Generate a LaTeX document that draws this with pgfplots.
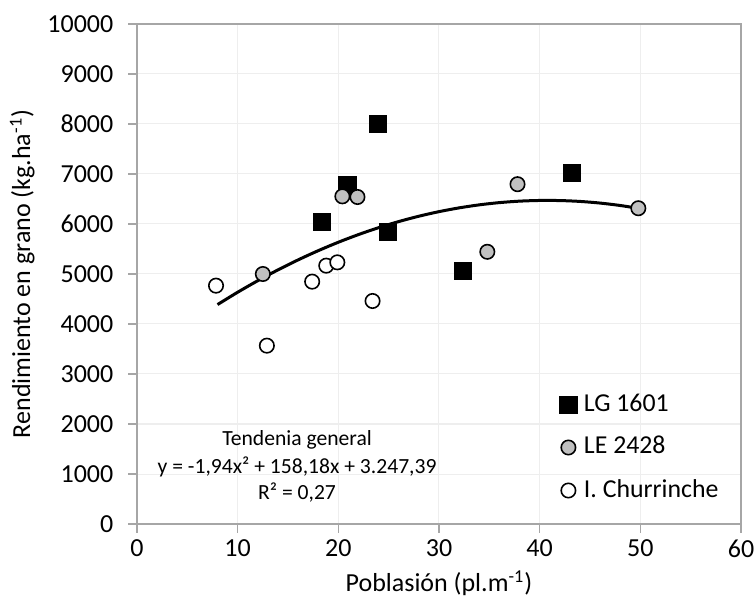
\documentclass[border=0pt]{standalone}
\usepackage{pgfplots}
\pgfplotsset{compat=1.18}
\usepackage{fontspec}
\setmainfont{Carlito}
\definecolor{axgray}{HTML}{A6A6A6}
\definecolor{gridgray}{HTML}{EEEEEE}
\definecolor{ptgray}{HTML}{C0C0C0}
\begin{document}
\begin{tikzpicture}
\path[use as bounding box] (-68.5pt,-40.5pt) rectangle (309pt,262pt);
\begin{axis}[
  at={(0pt,0pt)}, anchor=south west,
  scale only axis,
  width=302pt, height=250pt,
  xmin=0, xmax=60, ymin=0, ymax=10000,
  xtick={0,10,...,60}, ytick={0,1000,...,10000},
  scaled y ticks=false, scaled x ticks=false,
  grid=major,
  major grid style={draw=gridgray, line width=0.5pt},
  axis line style={draw=axgray, line width=0.7pt},
  tick style={draw=axgray, line width=0.7pt},
  tick align=outside, major tick length=4.3pt,
  xtick pos=bottom, ytick pos=left,
  /pgf/number format/assume math mode=true,
  /pgf/number format/1000 sep={},
  yticklabel={\pgfmathprintnumber[fixed,precision=0,1000 sep={}]{\tick}},
  ticklabel style={font=\fontsize{13}{16}\selectfont},
  yticklabel style={xshift=-4pt},
  xlabel={Poblasión (pl.m\textsuperscript{-1})},
  ylabel={Rendimiento en grano (kg.ha\textsuperscript{-1})},
  every axis x label/.style={at={(axis description cs:0.5,-0.118)}, anchor=center, font=\fontsize{13}{15}\selectfont},
  every axis y label/.style={at={(axis description cs:-0.19,0.5)}, anchor=center, rotate=90, font=\fontsize{13}{15}\selectfont},
  legend image code/.code={\draw[#1] plot coordinates {(0pt,0pt)};},
  legend style={at={(axis cs:42.0,2680)}, anchor=north west, draw=none, fill=none,
    inner sep=0pt, outer sep=0pt,
    font=\fontsize{12.9}{15}\selectfont, row sep=7pt,
    nodes={inner sep=1pt, text height=9.5pt, text depth=3pt},
    /tikz/every odd column/.style={column sep=2.5pt}},
  legend cell align=left,
]
\addplot[only marks, mark=square*, mark size=4.3pt, draw=black, fill=black] coordinates {
  (18.4,6034) (20.9,6780) (23.9,8000) (24.9,5847) (32.4,5060) (43.2,7028)
};
\addlegendentry{LG 1601}
\addplot[only marks, mark=*, mark size=3.6pt, draw=black, fill=ptgray, line width=0.8pt] coordinates {
  (12.5,5000) (20.4,6553) (21.9,6540) (34.8,5444) (37.8,6796) (49.8,6315)
};
\addlegendentry{LE 2428}
\addplot[only marks, mark=*, mark size=3.6pt, draw=black, fill=white, line width=0.8pt] coordinates {
  (7.85,4767) (12.9,3567) (17.4,4847) (18.8,5167) (19.9,5233) (23.4,4460)
};
\addlegendentry{I. Churrinche}
\addplot[black, line width=1.5pt, smooth, forget plot] coordinates {
  (8,4388.7) (10,4635.2) (12,4866.2) (14,5081.7) (16,5281.6) (18,5466.1)
  (20,5635.0) (22,5788.4) (24,5926.3) (26,6048.6) (28,6155.5) (30,6246.8)
  (32,6322.6) (34,6382.9) (36,6427.6) (38,6456.9) (40,6470.6) (42,6468.8)
  (44,6451.5) (46,6418.6) (48,6370.3) (50,6306.4)
};
\node[font=\fontsize{10.8}{13}\selectfont, anchor=center] at (axis cs:15.9,1680) {Tendenia general};
\node[font=\fontsize{10.8}{13}\selectfont, anchor=center] at (axis cs:15.9,1140) {y = -1,94x² + 158,18x + 3.247,39};
\node[font=\fontsize{10.8}{13}\selectfont, anchor=center] at (axis cs:15.9,620) {R² = 0,27};
\end{axis}
\end{tikzpicture}
\end{document}
